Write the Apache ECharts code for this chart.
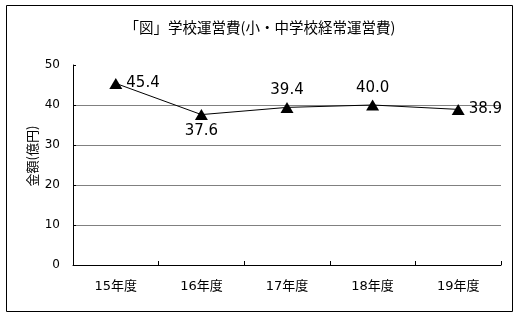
<!DOCTYPE html>
<html><head><meta charset="utf-8">
<script src="https://cdn.jsdelivr.net/npm/echarts@6/dist/echarts.min.js"></script>
<style>html,body{margin:0;padding:0;background:#fff}#c{width:520px;height:318px}</style>
</head><body><div id="c"></div>
<script>
const titleText = '「図」学校運営費(小・中学校経常運営費)';
const yAxisName = '金額(億円)';
const categories = ['15年度', '16年度', '17年度', '18年度', '19年度'];
const values = [45.4, 37.6, 39.4, 40.0, 38.9];
const labelPositions = ['right', 'bottom', 'top', 'top', 'right'];

const FONT = "'DejaVu Sans', 'Noto Sans CJK JP', sans-serif";
const JP = "'Noto Sans CJK JP', sans-serif";
const chart = echarts.init(document.getElementById('c'), null, {renderer: 'canvas'});
chart.setOption({
  animation: false,
  backgroundColor: '#fff',
  title: {
    text: titleText, left: 'center', top: 15,
    textStyle: {fontSize: 14.5, fontWeight: 'normal', color: '#000', fontFamily: JP}
  },
  graphic: [{
    type: 'rect', shape: {x: 6.5, y: 5.5, width: 506, height: 306},
    style: {fill: 'none', stroke: '#000', lineWidth: 1}, silent: true
  }],
  grid: {left: 73, right: 19, top: 65, bottom: 53},
  xAxis: {
    type: 'category', data: categories, boundaryGap: true,
    axisLine: {lineStyle: {color: '#000', width: 1}},
    axisTick: {show: true, inside: true, length: 4, lineStyle: {color: '#000'}},
    axisLabel: {color: '#000', fontSize: 13, margin: 15, fontFamily: FONT}
  },
  yAxis: {
    type: 'value', min: 0, max: 50, interval: 10,
    name: yAxisName, nameLocation: 'middle', nameGap: 34, nameRotate: 90,
    nameMoveOverlap: false,
    nameTextStyle: {color: '#000', fontSize: 13, fontFamily: JP, padding: [0, 0, 0, 18]},
    axisLine: {show: true, lineStyle: {color: '#000', width: 1}},
    axisTick: {show: true, inside: true, length: 3, lineStyle: {color: '#000'}},
    axisLabel: {color: '#000', fontSize: 12, margin: 13, fontFamily: FONT},
    splitLine: {show: true, showMinLine: false, showMaxLine: false, lineStyle: {color: '#808080', width: 1}}
  },
  series: [{
    type: 'line',
    data: values.map((v, i) => ({value: v, label: {position: labelPositions[i]}})),
    symbol: 'triangle', symbolSize: [13, 11],
    itemStyle: {color: '#000'},
    lineStyle: {color: '#000', width: 1},
    label: {
      show: true, fontSize: 15, color: '#000', fontFamily: FONT, distance: 4,
      formatter: p => p.value.toFixed(1)
    }
  }]
});
</script></body></html>
